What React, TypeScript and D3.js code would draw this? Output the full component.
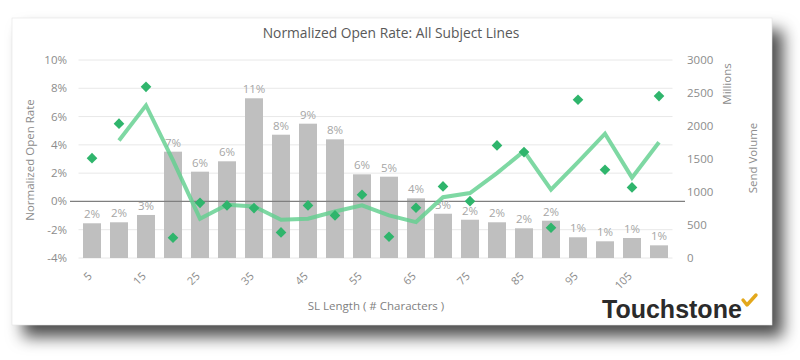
import React from "react";
import * as d3 from "d3";

const categories = [5, 10, 15, 20, 25, 30, 35, 40, 45, 50, 55, 60, 65, 70, 75, 80, 85, 90, 95, 100, 105, 110];
const sendVolume = [526, 541, 652, 1611, 1308, 1465, 2420, 1868, 2035, 1798, 1268, 1232, 904, 671, 580, 541, 450, 565, 314, 253, 303, 192];
const volumeShareLabels = ["2%", "2%", "3%", "7%", "6%", "6%", "11%", "8%", "9%", "8%", "6%", "5%", "4%", "3%", "2%", "2%", "2%", "2%", "1%", "1%", "1%", "1%"];
const openRate = [3.06, 5.5, 8.1, -2.57, -0.1, -0.28, -0.47, -2.19, -0.28, -0.99, 0.47, -2.5, -0.45, 1.06, 0.02, 3.96, 3.49, -1.86, 7.19, 2.24, 0.99, 7.45];
const trend: (number | null)[] = [null, 4.31, 6.79, 2.9, -1.22, -0.23, -0.35, -1.29, -1.22, -0.71, -0.28, -0.99, -1.46, 0.3, 0.59, 2.0, 3.56, 0.83, 2.78, 4.79, 1.68, 4.19];
const leftTicks = [-4, -2, 0, 2, 4, 6, 8, 10];
const rightTicks = [0, 500, 1000, 1500, 2000, 2500, 3000];
const xTickLabels = [5, 15, 25, 35, 45, 55, 65, 75, 85, 95, 105];

const FONT = "'Open Sans', 'Noto Sans', sans-serif";

export default function App() {
  const x = d3
    .scaleBand<number>()
    .domain(categories)
    .range([78.5, 672.5])
    .paddingInner(1 / 3)
    .paddingOuter(1 / 6);
  const yL = d3.scaleLinear().domain([-4, 10]).range([258, 60]);
  const yR = d3.scaleLinear().domain([0, 3000]).range([258, 60]);
  const cx = (c: number) => (x(c) as number) + x.bandwidth() / 2;

  const line = d3
    .line<[number, number | null]>()
    .defined((d) => d[1] !== null)
    .x((d) => cx(d[0]))
    .y((d) => yL(d[1] as number));
  const linePath = line(categories.map((c, i) => [c, trend[i]] as [number, number | null])) || "";

  const diamond = d3.symbol().type(d3.symbolDiamond2).size(72)() || "";

  return (
    <div style={{ position: "fixed", left: 0, top: 0 }}>
      <svg width={800} height={360} style={{ display: "block", background: "#ffffff" }}>
        <defs>
          <filter id="shadow" x="-10%" y="-10%" width="130%" height="150%">
            <feDropShadow dx="11" dy="12" stdDeviation="8" floodColor="#000" floodOpacity="0.7" />
          </filter>
        </defs>
        <rect x={12} y={18} width={760} height={307} fill="#ffffff" filter="url(#shadow)" />
        <rect x={12} y={18} width={760} height={307} fill="#ffffff" stroke="#e4e4e4" strokeWidth={0.6} />

        <text x={391} y={38} textAnchor="middle" fontFamily={FONT} fontSize={13.8} fill="#595959">
          Normalized Open Rate: All Subject Lines
        </text>

        {/* gridlines */}
        {leftTicks
          .filter((t) => t !== 0)
          .map((t) => (
            <line key={t} x1={78.5} x2={672.5} y1={yL(t)} y2={yL(t)} stroke="#e8e8e8" strokeWidth={1} />
          ))}

        {/* bars */}
        {categories.map((c, i) => (
          <rect
            key={c}
            x={x(c)}
            y={yR(sendVolume[i])}
            width={x.bandwidth()}
            height={yR(0) - yR(sendVolume[i])}
            fill="#bfbfbf"
          />
        ))}

        {/* zero line */}
        <line x1={70} x2={685} y1={yL(0)} y2={yL(0)} stroke="#7f7f7f" strokeWidth={1.3} />

        {/* bar labels */}
        {categories.map((c, i) => (
          <text
            key={c}
            x={cx(c)}
            y={yR(sendVolume[i]) - 5}
            textAnchor="middle"
            fontFamily={FONT}
            fontSize={11.5}
            fill="#a6a6a6"
          >
            {volumeShareLabels[i]}
          </text>
        ))}

        {/* trend line */}
        <path d={linePath} fill="none" stroke="#62d08f" strokeOpacity={0.82} strokeWidth={4} strokeLinejoin="miter" />

        {/* diamonds */}
        {categories.map((c, i) => (
          <path key={c} d={diamond} transform={`translate(${cx(c)},${yL(openRate[i])})`} fill="#2fb56c" />
        ))}

        {/* left axis */}
        {leftTicks.map((t) => (
          <text
            key={t}
            x={67}
            y={yL(t)}
            dy="0.35em"
            textAnchor="end"
            fontFamily={FONT}
            fontSize={11.5}
            fill="#8c8c8c"
          >
            {`${t}%`}
          </text>
        ))}
        <text
          transform={`translate(34,160) rotate(-90)`}
          textAnchor="middle"
          fontFamily={FONT}
          fontSize={11.5}
          fill="#8c8c8c"
        >
          Normalized Open Rate
        </text>

        {/* right axis */}
        {rightTicks.map((t) => (
          <text key={t} x={687} y={yR(t)} dy="0.35em" textAnchor="start" fontFamily={FONT} fontSize={11.5} fill="#8c8c8c">
            {t}
          </text>
        ))}
        <text transform={`translate(731,84) rotate(-90)`} textAnchor="middle" fontFamily={FONT} fontSize={11.5} fill="#8c8c8c">
          Millions
        </text>
        <text transform={`translate(757,158) rotate(-90)`} textAnchor="middle" fontFamily={FONT} fontSize={11.5} fill="#8c8c8c">
          Send Volume
        </text>

        {/* x tick labels */}
        {xTickLabels.map((c) => (
          <text
            key={c}
            transform={`translate(${cx(c) - 2},${274}) rotate(-45)`}
            dy="0.35em"
            textAnchor="end"
            fontFamily={FONT}
            fontSize={11}
            fill="#8c8c8c"
          >
            {c}
          </text>
        ))}
        <text x={376} y={310} textAnchor="middle" fontFamily={FONT} fontSize={11.5} fill="#7f7f7f">
          SL Length ( # Characters )
        </text>

        {/* logo */}
        <text x={602} y={318} fontFamily="'Liberation Sans', Arial, sans-serif" fontWeight="bold" fontSize={25} fill="#2b2b2b">
          Touchstone
        </text>
        <path d="M743,300 L747,305 L756,295" fill="none" stroke="#e3a81c" strokeWidth={3.4} strokeLinecap="round" strokeLinejoin="round" />
      </svg>
    </div>
  );
}
